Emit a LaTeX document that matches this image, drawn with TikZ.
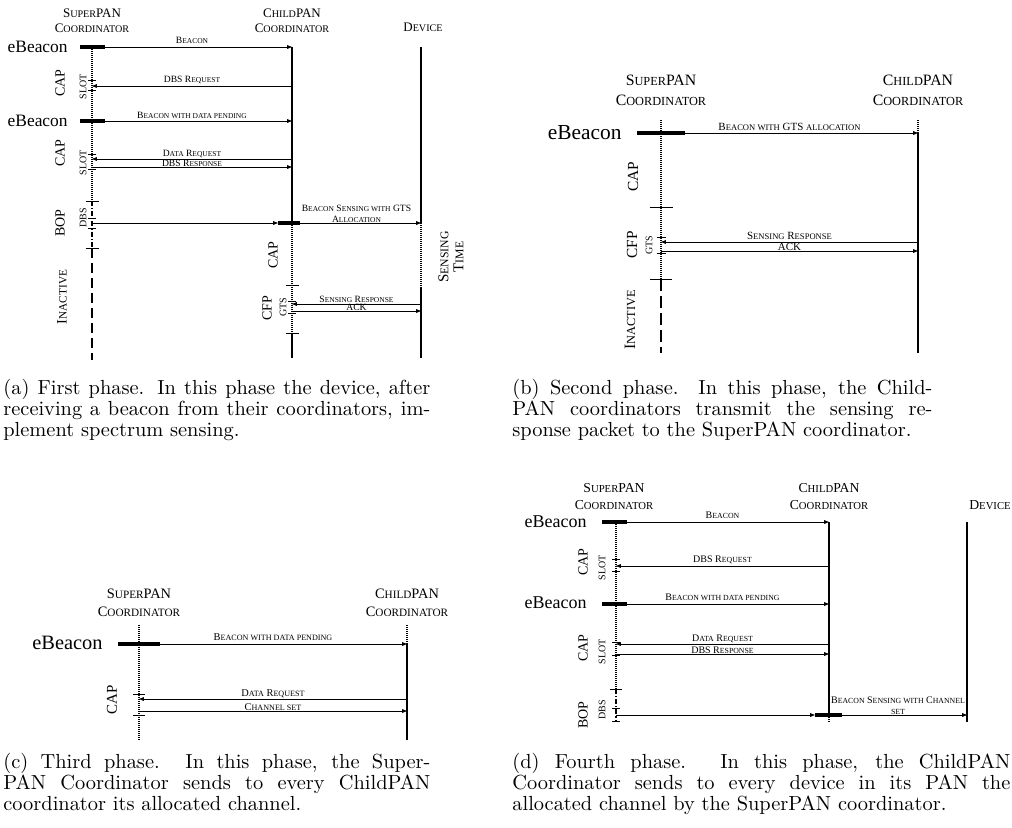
\documentclass[tikz,border=0pt]{standalone}
\usepackage{fontspec}
\newfontfamily\timesrm{Liberation Serif}
\usetikzlibrary{arrows.meta}
\makeatletter
\newcommand{\lowc}[1]{{\fontsize{\fpeval{0.78*\f@size}}{\f@baselineskip}\selectfont #1}}
\makeatother

\begin{document}
\begin{tikzpicture}[
    x=0.5pt, y=-0.5pt,
    >={Triangle[length=2.4pt,width=1.8pt]},
    hdr/.style 2 args={font=\timesrm\fontsize{#1}{#2}\selectfont, align=center, inner sep=0pt},
    ebcn/.style={font=\timesrm\fontsize{#1}{#1}\selectfont, anchor=east, inner sep=0pt},
    lbl/.style={font=\timesrm\fontsize{#1}{\fpeval{1.15*#1}}\selectfont, align=center, inner sep=0pt},
    vert/.style={font=\timesrm\fontsize{#1}{\fpeval{1.1*#1}}\selectfont, rotate=90, inner sep=0pt},
    msg/.style={->, line width=0.4pt},
    life/.style={line width=0.6pt},
    dotl/.style={line width=1pt, dash pattern=on 0.5pt off 0.5pt},
    dotdash/.style={line width=0.9pt, dash pattern=on 2.5pt off 1pt on 0.6pt off 1pt},
    inact/.style={line width=1.1pt, dash pattern=on #1 off 2.5pt},
    bar/.style={line width=1.6pt},
    tick/.style={line width=0.5pt},
    capt/.style={text width=#1, align=justify, anchor=north west, inner sep=0pt,
                 font=\fontsize{10.2}{10.5}\selectfont}
]
\useasboundingbox (0,0) rectangle (1012,827);

% ---------------- (a) First phase ----------------
\coordinate (aS) at (92,47);
\coordinate (aC) at (292,47);
\coordinate (aD) at (421,47);
\foreach \n/\y in {Bcn/47, Dreq/86, Bdp/121, Dat/159, Drsp/167, Dbs/223, Srsp/304, Ack/311}
    \coordinate (a\n) at (0,\y);

% Headers
\node[hdr={6.5}{7.5}] (aSupT) at (92,20.5) {S\lowc{UPER}PAN\\C\lowc{OORDINATOR}};
\node[hdr={6.5}{7.5}] (aChdT) at (292,20.5) {C\lowc{HILD}PAN\\C\lowc{OORDINATOR}};
\node[hdr={6.5}{7.5}] (aDevT) at (423,27) {D\lowc{EVICE}};

% Lifelines
\draw[dotl] (aS) -- (aS |- 0,201);
\draw[dotdash] (aS |- 0,201) -- (aS |- 0,248);
\draw[inact=5pt] (aS |- 0,248) -- (aS |- 0,360);
\foreach \y/\w in {80/4, 90/4, 154/4, 169/4, 201/6.5, 218/4, 228/4, 248/6.5}
    \draw[tick] (aS |- 0,\y) +(-\w,0) -- +(\w,0);
\draw[life] (aC) -- (aC |- aDbs);
\draw[dotl] (aC |- aDbs) -- (aC |- 0,333);
\draw[life] (aC |- 0,333) -- (aC |- 0,358);
\foreach \y/\w in {285/6.5, 301/4, 313/4, 333/6.5}
    \draw[tick] (aC |- 0,\y) +(-\w,0) -- +(\w,0);
\draw[life] (aD) -- (aD |- aDbs);
\draw[dotl] (aD |- aDbs) -- (aD |- 0,287);
\draw[life] (aD |- 0,287) -- (aD |- 0,358);

% Beacon bars
\draw[bar] (aS |- aBcn) +(-12,0) -- +(13,0);
\draw[bar] (aS |- aBdp) +(-12,0) -- +(13,0);
\draw[bar] (aC |- aDbs) +(-14,0) -- +(8,0);
\node[ebcn=8.7] (aEb1) at (68,47) {eBeacon};
\node[ebcn=8.7] (aEb2) at (68,121) {eBeacon};

% Messages
\draw[msg] (aS |- aBcn) -- (aC |- aBcn) node[lbl=4.8, midway, above=1.5pt] (aBcnL) {B\lowc{EACON}};
\draw[msg] (aC |- aDreq) -- (aS |- aDreq) node[lbl=4.8, midway, above=1pt] (aDreqL) {DBS R\lowc{EQUEST}};
\draw[msg] (aS |- aBdp) -- (aC |- aBdp) node[lbl=4.8, midway, above=1pt] (aBdpL) {B\lowc{EACON WITH DATA PENDING}};
\draw[msg] (aC |- aDat) -- (aS |- aDat) node[lbl=4.8, midway, above=0.6pt] (aDatL) {D\lowc{ATA} R\lowc{EQUEST}};
\draw[msg] (aS |- aDrsp) -- (aC |- aDrsp) node[lbl=4.8, midway, above=0pt] (aDrspL) {DBS R\lowc{ESPONSE}};
\draw[msg] (aS |- aDbs) -- ([xshift=-7pt]aC |- aDbs);
\draw[msg] (aC |- aDbs) -- (aD |- aDbs) node[lbl=4.8, midway, above=0pt] (aBsL) {B\lowc{EACON} S\lowc{ENSING WITH} GTS\\A\lowc{LLOCATION}};
\draw[msg] (aD |- aSrsp) -- (aC |- aSrsp) node[lbl=4.8, midway, above=0.6pt] (aSrspL) {S\lowc{ENSING} R\lowc{ESPONSE}};
\draw[msg] (aC |- aAck) -- (aD |- aAck) node[lbl=4.8, midway, above=0pt] (aAckL) {ACK};

% Period labels
\node[vert=7] (aCap1) at (60,83) {CAP};
\node[vert=5] (aSlot1) at (83,87) {SLOT};
\node[vert=7] (aCap2) at (60,153) {CAP};
\node[vert=5] (aSlot2) at (83,163) {SLOT};
\node[vert=7] (aBop) at (60,223) {BOP};
\node[vert=5] (aDbsT) at (83,218) {DBS};
\node[vert=7.2] (aIna) at (62,297) {I\lowc{NACTIVE}};
\node[vert=7] (aCap3) at (273,255) {CAP};
\node[vert=7] (aCfp) at (267,308) {CFP};
\node[vert=5] (aGts) at (283,307) {GTS};
\node[vert=7.5, align=center, font=\timesrm\fontsize{7.5}{7.5}\selectfont] (aSns) at (451,257) {S\lowc{ENSING}\\T\lowc{IME}};

% ---------------- (b) Second phase ----------------
\coordinate (bS) at (661,120);
\coordinate (bC) at (918,120);
\foreach \n/\y in {Bcn/133, Srsp/242, Ack/251}
    \coordinate (b\n) at (0,\y);

\node[hdr={7.9}{10}] (bSupT) at (661,90) {S\lowc{UPER}PAN\\C\lowc{OORDINATOR}};
\node[hdr={7.9}{10}] (bChdT) at (918,90) {C\lowc{HILD}PAN\\C\lowc{OORDINATOR}};

\draw[dotl] (bS) -- (bS |- 0,279);
\draw[inact=6pt] (bS |- 0,279) -- (bS |- 0,353);
\foreach \y/\w in {207/11.5, 237/4.5, 253/4.5, 279/11}
    \draw[tick] (bS |- 0,\y) +(-\w,0) -- +(\w,0);
\draw[dotl] (bC) -- (bC |- bBcn);
\draw[life] (bC |- bBcn) -- (bC |- 0,353);

\draw[bar] (bS |- bBcn) +(-24,0) -- +(24,0);
\node[ebcn=10.7] (bEb) at (622,133) {eBeacon};

\draw[msg] (bS |- bBcn) -- (bC |- bBcn) node[lbl=5.5, midway, above=1.2pt] (bBcnL) {B\lowc{EACON WITH} GTS \lowc{ALLOCATION}};
\draw[msg] (bC |- bSrsp) -- (bS |- bSrsp) node[lbl=5.5, midway, above=1pt] (bSrspL) {S\lowc{ENSING} R\lowc{ESPONSE}};
\draw[msg] (bS |- bAck) -- (bC |- bAck) node[lbl=5.5, midway, above=0pt] (bAckL) {ACK};

\node[vert=7.7] (bCap) at (633,177) {CAP};
\node[vert=7.7] (bCfp) at (632,245) {CFP};
\node[vert=5] (bGts) at (649,245) {GTS};
\node[vert=7.9] (bIna) at (630,320) {I\lowc{NACTIVE}};

% ---------------- (c) Third phase ----------------
\coordinate (cS) at (139,625);
\coordinate (cC) at (407,625);
\foreach \n/\y in {Bdp/644, Dreq/699, Chs/711}
    \coordinate (c\n) at (0,\y);

\node[hdr={7.2}{9}] (cSupT) at (139,603) {S\lowc{UPER}PAN\\C\lowc{OORDINATOR}};
\node[hdr={7.2}{9}] (cChdT) at (407,603) {C\lowc{HILD}PAN\\C\lowc{OORDINATOR}};

\draw[dotl] (cS) -- (cS |- 0,740);
\foreach \y in {694, 715}
    \draw[tick] (cS |- 0,\y) +(-6,0) -- +(6,0);
\draw[dotl] (cC) -- (cC |- cBdp);
\draw[life] (cC |- cBdp) -- (cC |- 0,740);

\draw[bar] (cS |- cBdp) +(-21,0) -- +(21,0);
\node[ebcn=10.2] (cEb) at (103,643) {eBeacon};

\draw[msg] (cS |- cBdp) -- (cC |- cBdp) node[lbl=5.2, midway, above=1.5pt] (cBdpL) {B\lowc{EACON WITH DATA PENDING}};
\draw[msg] (cC |- cDreq) -- (cS |- cDreq) node[lbl=5.2, midway, above=0.5pt] (cDreqL) {D\lowc{ATA} R\lowc{EQUEST}};
\draw[msg] (cS |- cChs) -- (cC |- cChs) node[lbl=5.2, midway, above=0pt] (cChsL) {C\lowc{HANNEL SET}};

\node[vert=7.5] (cCap) at (112,700) {CAP};

% ---------------- (d) Fourth phase ----------------
\coordinate (dS) at (616,522);
\coordinate (dC) at (829,522);
\coordinate (dD) at (967,522);
\foreach \n/\y in {Bcn/522, Dreq/566, Bdp/604, Dat/644, Drsp/654, Dbs/715}
    \coordinate (d\n) at (0,\y);

\node[hdr={6.85}{8.5}] (dSupT) at (614,496.5) {S\lowc{UPER}PAN\\C\lowc{OORDINATOR}};
\node[hdr={6.85}{8.5}] (dChdT) at (829,496.5) {C\lowc{HILD}PAN\\C\lowc{OORDINATOR}};
\node[hdr={6.85}{8.5}] (dDevT) at (990,505) {D\lowc{EVICE}};

\draw[dotl] (dS) -- (dS |- 0,689);
\draw[dotdash] (dS |- 0,689) -- (dS |- 0,722);
\foreach \y/\w in {559/4, 571/4, 642/4, 655/4, 689/6, 708/4, 721/4}
    \draw[tick] (dS |- 0,\y) +(-\w,0) -- +(\w,0);
\draw[life] (dC) -- (dC |- dDbs);
\draw[dotl] (dC |- dDbs) -- (dC |- 0,723);
\draw[life] (dD) -- (dD |- 0,722);

\draw[bar] (dS |- dBcn) +(-14,0) -- +(11,0);
\draw[bar] (dS |- dBdp) +(-14,0) -- +(11,0);
\draw[bar] (dC |- dDbs) +(-14,0) -- +(13,0);
\node[ebcn=9] (dEb1) at (587,522) {eBeacon};
\node[ebcn=9] (dEb2) at (587,603) {eBeacon};

\draw[msg] (dS |- dBcn) -- (dC |- dBcn) node[lbl=5, midway, above=1.5pt] (dBcnL) {B\lowc{EACON}};
\draw[msg] (dC |- dDreq) -- (dS |- dDreq) node[lbl=5, midway, above=1pt] (dDreqL) {DBS R\lowc{EQUEST}};
\draw[msg] (dS |- dBdp) -- (dC |- dBdp) node[lbl=5, midway, above=1.5pt] (dBdpL) {B\lowc{EACON WITH DATA PENDING}};
\draw[msg] (dC |- dDat) -- (dS |- dDat) node[lbl=5, midway, above=0.5pt] (dDatL) {D\lowc{ATA} R\lowc{EQUEST}};
\draw[msg] (dS |- dDrsp) -- (dC |- dDrsp) node[lbl=5, midway, above=0pt] (dDrspL) {DBS R\lowc{ESPONSE}};
\draw[msg] (dS |- dDbs) -- ([xshift=-7pt]dC |- dDbs);
\draw[msg] (dC |- dDbs) -- (dD |- dDbs) node[lbl=5, midway, above=0pt] (dBsL) {B\lowc{EACON} S\lowc{ENSING WITH} C\lowc{HANNEL}\\\lowc{SET}};

\node[vert=7] (dCap1) at (583,562) {CAP};
\node[vert=5] (dSlot1) at (602,568) {SLOT};
\node[vert=7] (dCap2) at (583,648) {CAP};
\node[vert=5] (dSlot2) at (602,652) {SLOT};
\node[vert=7] (dBop) at (583,715) {BOP};
\node[vert=5] (dDbsT) at (602,710) {DBS};

% ---------------- Captions ----------------
\node[capt=213.5pt] (capA) at (3,379) {(a) First phase. In this phase the device, after\linebreak
    receiving a beacon from their coordinators, im-\linebreak plement spectrum sensing.};
\node[capt=210pt] (capB) at (512,379) {(b) Second phase. In this phase, the Child-\linebreak
    PAN coordinators transmit the sensing re-\linebreak sponse packet to the SuperPAN coordinator.};
\node[capt=213.5pt] (capC) at (3,753) {(c) Third phase. In this phase, the Super-\linebreak
    PAN Coordinator sends to every ChildPAN\linebreak coordinator its allocated channel.};
\node[capt=249pt] (capD) at (512,753) {(d) Fourth phase. In this phase, the ChildPAN\linebreak
    Coordinator sends to every device in its PAN the\linebreak allocated channel by the SuperPAN coordinator.};

\end{tikzpicture}
\end{document}
